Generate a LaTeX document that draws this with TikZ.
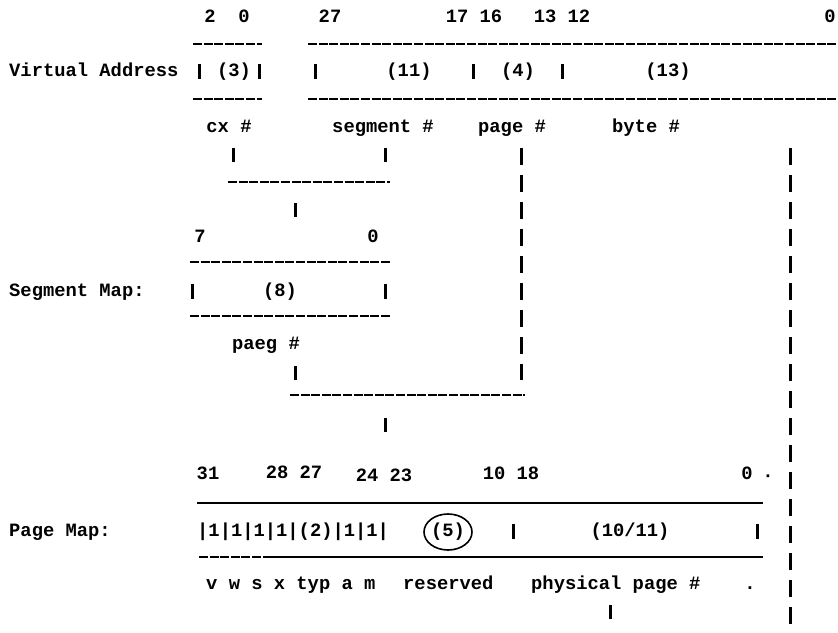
\documentclass[tikz,border=0pt]{standalone}
\usepackage{fontspec}
\setmainfont{Liberation Mono}
\newcommand\tbar[2]{\draw[vb] (#1,#2-8) -- (#1,#2+7);}
\begin{document}
\begin{tikzpicture}[x=1pt,y=-1pt,
  txt/.style={font=\fontsize{18.8}{21}\selectfont\bfseries, inner sep=0pt, text height=11pt, text depth=2pt},
  lbl/.style={txt, anchor=west},
  rule/.style={line width=2.6pt, dash pattern=on 9pt off 1.6pt},
  solidrule/.style={line width=2.8pt},
  vb/.style={line width=3pt},
  chain/.style={line width=3pt, dash pattern=on 17pt off 10pt}]
\useasboundingbox (0,0) rectangle (838,632);

% ---------------- virtual address ----------------
\node[txt] (b20)   at (227,18) {2\ \ 0};
\node[txt] (b27)   at (330,18) {27};
\node[txt] (b1716) at (474,18) {17 16};
\node[txt] (b1312) at (562,18) {13 12};
\node[txt] (bz)    at (830,18) {0};

\draw[rule] (193,44) -- (262,44);
\draw[rule] (308,44) -- (838,44);
\node[lbl] (va) at (9,72) {Virtual Address};
\tbar{199}{72}
\node[txt] (cxf) at (234,72) {(3)};
\tbar{259}{72}
\tbar{315}{72}
\node[txt] (sgf) at (409,72) {(11)};
\tbar{473}{72}
\node[txt] (pgf) at (518,72) {(4)};
\tbar{562}{72}
\node[txt] (byf) at (668,72) {(13)};
\draw[rule] (193,99) -- (262,99);
\draw[rule] (308,99) -- (838,99);

\node[txt] (cx)   at (229,128) {cx \#};
\node[txt] (seg)  at (383,128) {segment \#};
\node[txt] (page) at (512,128) {page \#};
\node[txt] (byte) at (646,128) {byte \#};

% ---------------- segment map ----------------
\coordinate (cxa) at (233,148);  \coordinate (cxb) at (233,162);
\coordinate (sga) at (385,148);  \coordinate (sgb) at (385,162);
\draw[vb] (cxa) -- (cxb);
\draw[vb] (sga) -- (sgb);
\draw[rule] (228,182) -- (390,182);
\coordinate (ixa) at (295,203); \coordinate (ixb) at (295,217);
\draw[vb] (ixa) -- (ixb);

\node[txt] (s7) at (200,238) {7};
\node[txt] (s0) at (373,238) {0};
\draw[rule] (190,262) -- (390,262);
\node[lbl] (sm) at (9,292) {Segment Map:};
\tbar{192}{292}
\node[txt] (smf) at (280,292) {(8)};
\tbar{385}{292}
\draw[rule] (190,316) -- (390,316);
\node[txt] (paeg) at (266,345) {paeg \#};
\coordinate (pga) at (295,366); \coordinate (pgb) at (295,380);
\draw[vb] (pga) -- (pgb);

% page number column and join
\coordinate (pcol) at (521,148);
\coordinate (pend) at (521,380);
\draw[chain] (pcol) -- (pend);
\draw[rule] (290,395) -- (525,395);
\coordinate (jna) at (385,418); \coordinate (jnb) at (385,432);
\draw[vb] (jna) -- (jnb);

% byte number column
\coordinate (bcol) at (790,148);
\coordinate (bend) at (790,632);
\draw[chain] (bcol) -- (bend);

% ---------------- page map ----------------
\node[txt] at (208,475) {31};
\node[txt] at (294,474) {28 27};
\node[txt] at (384,477) {24 23};
\node[txt] at (511,475) {10 18};
\node[txt] at (747,475) {0};
\node[txt] at (768,477) {·};

\draw[solidrule] (197,503) -- (763,503);
\node[lbl] (pm) at (9,532) {Page Map:};
\node[lbl] (flags) at (197,532) {|1|1|1|1|(2)|1|1|};
\node[txt] (res) at (448,532) {(5)};
\draw[line width=1.6pt] (448,532) ellipse [x radius=24, y radius=18];
\tbar{513}{532}
\node[txt] (ppn) at (630,532) {(10/11)};
\tbar{757}{532}
\draw[rule] (199,557) -- (268,557);
\draw[solidrule] (268,557) -- (763,557);

\node[lbl] at (206,585) {v w s x typ a m};
\node[lbl] at (403,585) {reserved};
\node[lbl] at (531,585) {physical page \#};
\node[txt] at (750,585) {.};
\coordinate (phya) at (610,605); \coordinate (phyb) at (610,619);
\draw[vb] (phya) -- (phyb);
\end{tikzpicture}
\end{document}
